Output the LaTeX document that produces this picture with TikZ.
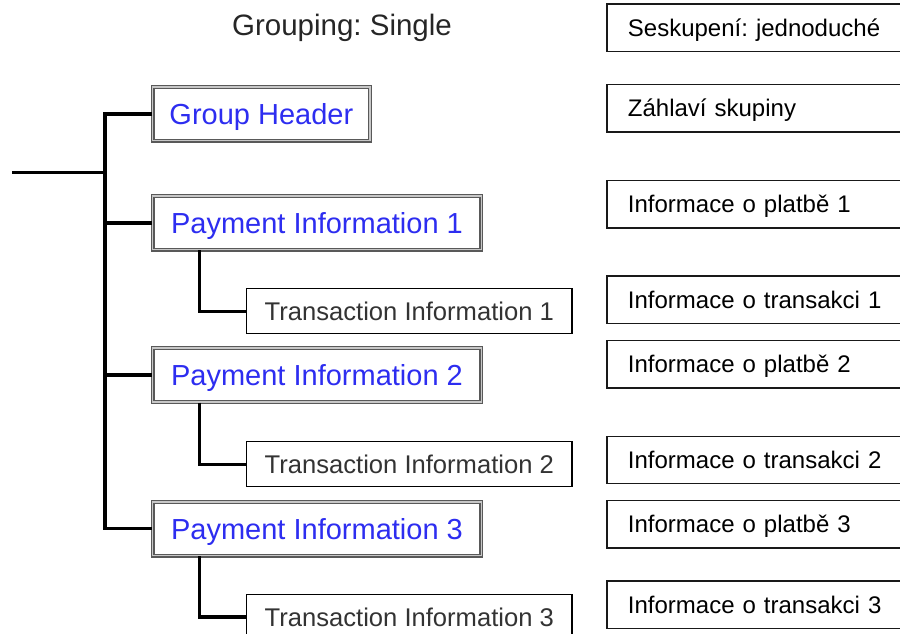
\documentclass[tikz,border=0pt]{standalone}
\usepackage{fontspec}
\setmainfont{Liberation Sans}
\usepackage{tikz}
\frenchspacing

\definecolor{pinfoblue}{RGB}{45,45,240}

\begin{document}
\begin{tikzpicture}[x=1pt, y=-1pt,
    paybox/.style={draw=black!65, double=black!22, line width=1.3pt, double distance=1.4pt,
        minimum height=53.7, inner sep=0pt, text height=21, text depth=0pt,
        text=pinfoblue, font=\fontsize{29}{32}\selectfont},
    transbox/.style={draw=black, line width=1.2pt, minimum width=325.5, minimum height=45,
        inner sep=0pt, text height=18.5, text depth=0pt,
        text=black!80, font=\fontsize{25.6}{28}\selectfont},
    notebox/.style={draw=black!90, line width=1.3pt, anchor=west, minimum height=47.3,
        inner xsep=21pt, inner ysep=0pt, text width=300, align=left,
        text height=17.2, text depth=0pt, font=\fontsize{24}{27}\selectfont},
    treeline/.style={line width=3.2pt, black}]

    % Picture frame
    \clip (0,0) rectangle (900,634);

    % Title
    \node[text height=21, text depth=0pt, inner sep=0pt, text=black!85,
        font=\fontsize{29.5}{32}\selectfont] (title) at (342,25.5) {Grouping: Single};

    % Group header and payment information boxes
    \node[paybox, minimum width=217.2] (gh) at (261.35,113.9) {Group Header};
    \node[paybox, minimum width=328.6] (p1) at (317,222.9) {Payment Information 1};
    \node[paybox, minimum width=328.6] (p2) at (317,375) {Payment Information 2};
    \node[paybox, minimum width=328.6] (p3) at (317,528.7) {Payment Information 3};

    % Transaction information boxes
    \node[transbox] (t1) at (409.3,311.2) {Transaction Information 1};
    \node[transbox] (t2) at (409.3,464.1) {Transaction Information 2};
    \node[transbox] (t3) at (409.3,617) {Transaction Information 3};

    % Czech notes on the right
    \node[notebox] (n0) at (606.3,27.8) {Seskupení: jednoduché};
    \node[notebox] (n1) at (606.3,108.4) {Záhlaví skupiny};
    \node[notebox] (n2) at (606.3,204.2) {Informace o platbě 1};
    \node[notebox] (n3) at (606.3,299.7) {Informace o transakci 1};
    \node[notebox] (n4) at (606.3,364.2) {Informace o platbě 2};
    \node[notebox] (n5) at (606.3,460) {Informace o transakci 2};
    \node[notebox] (n6) at (606.3,524.2) {Informace o platbě 3};
    \node[notebox] (n7) at (606.3,604.5) {Informace o transakci 3};

    % Tree: root line and trunk
    \coordinate (root) at (12,172.5);
    \coordinate (trunk) at (105,172.5);
    \draw[treeline] (root) -- (trunk);
    \draw[treeline] (gh.west) -| (trunk) |- (p3.west);
    \draw[treeline] (trunk |- p1.west) -- (p1.west);
    \draw[treeline] (trunk |- p2.west) -- (p2.west);

    % Payment to transaction elbows
    \draw[treeline] ([xshift=47.5pt]p1.south west) |- (t1.west);
    \draw[treeline] ([xshift=47.5pt]p2.south west) |- (t2.west);
    \draw[treeline] ([xshift=47.5pt]p3.south west) |- (t3.west);

\end{tikzpicture}
\end{document}
